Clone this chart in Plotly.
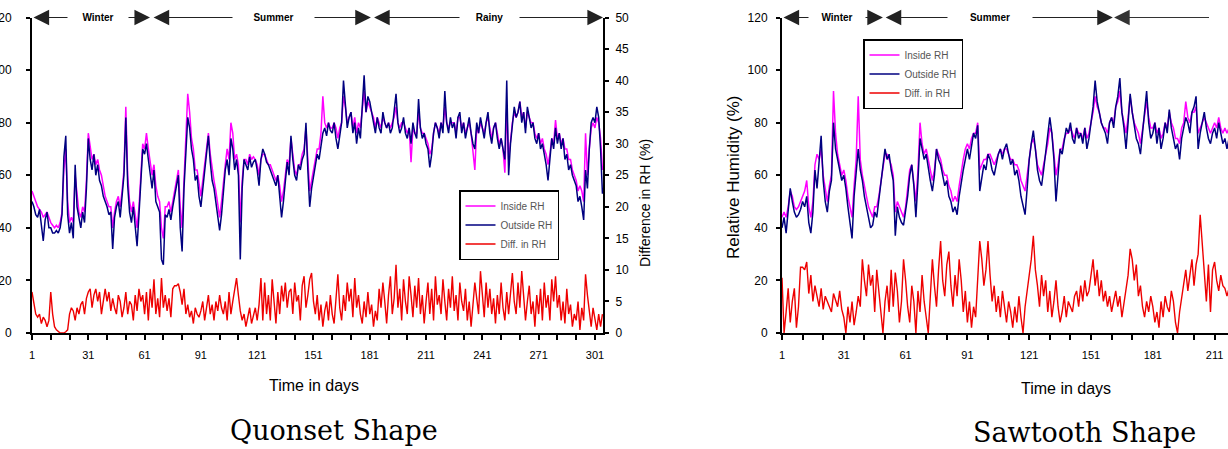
import plotly.graph_objects as go

# ---------------- Quonset shape (left panel) ----------------
q_inside = [
    54, 52, 50, 48, 47, 46, 44, 45, 46, 44,
    42, 41, 40, 41, 40, 42, 46, 62, 70, 50,
    42, 44, 42, 60, 52, 46, 44, 48, 46, 58,
    76, 70, 66, 68, 64, 66, 62, 60, 56, 52,
    50, 48, 48, 40, 46, 50, 52, 48, 54, 62,
    86, 60, 50, 46, 50, 44, 40, 48, 62, 72,
    70, 76, 70, 64, 60, 64, 56, 52, 50, 40,
    36, 48, 48, 50, 46, 50, 54, 58, 62, 48,
    40, 58, 74, 91, 84, 74, 70, 62, 62, 56,
    52, 58, 64, 72, 76, 68, 62, 58, 54, 48,
    44, 50, 58, 64, 70, 66, 80, 76, 66, 68,
    64, 42, 58, 66, 66, 64, 68, 66, 67, 66,
    64, 60, 66, 68, 68, 66, 64, 64, 62, 60,
    58, 60, 56, 50, 54, 60, 66, 64, 74, 68,
    62, 60, 64, 64, 68, 70, 78, 66, 54, 58,
    62, 66, 70, 70, 76, 90, 80, 78, 80, 78,
    78, 80, 78, 74, 78, 80, 90, 86, 80, 82,
    84, 78, 82, 76, 80, 78, 84, 92, 84, 88,
    86, 84, 82, 78, 82, 80, 78, 82, 80, 78,
    80, 78, 80, 82, 86, 80, 78, 80, 80, 78,
    76, 78, 65, 78, 76, 76, 84, 78, 76, 76,
    74, 72, 68, 70, 76, 80, 78, 76, 80, 78,
    86, 80, 78, 80, 80, 80, 76, 82, 82, 78,
    80, 76, 78, 80, 76, 70, 62, 78, 76, 80,
    78, 76, 80, 82, 78, 74, 78, 80, 76, 72,
    74, 70, 61, 86, 66, 74, 80, 84, 82, 84,
    88, 82, 84, 78, 84, 82, 80, 80, 76, 74,
    76, 72, 74, 70, 68, 64, 68, 74, 72, 81,
    74, 76, 72, 74, 70, 70, 66, 66, 62, 60,
    58, 54, 56, 54, 50, 76, 60, 70, 78, 80,
    78, 82, 80, 74, 62,
]
q_outside = [
    50, 48, 45, 44, 47, 42, 35, 43, 46, 40,
    40, 38, 38, 39, 38, 40, 45, 67, 75, 45,
    38, 42, 36, 64, 48, 44, 40, 46, 42, 55,
    74, 66, 62, 68, 60, 64, 58, 56, 52, 50,
    48, 45, 46, 32, 44, 48, 50, 44, 52, 60,
    82, 56, 46, 42, 48, 40, 33, 45, 60, 70,
    68, 72, 66, 60, 55, 62, 50, 48, 46, 28,
    26, 45, 44, 47, 43, 48, 52, 56, 60, 40,
    31, 55, 70, 82, 78, 70, 66, 58, 60, 52,
    48, 55, 62, 70, 75, 65, 58, 55, 50, 44,
    39, 45, 55, 62, 66, 60, 74, 70, 62, 66,
    60, 28, 55, 66, 64, 62, 67, 63, 65, 66,
    62, 56, 66, 70, 68, 65, 64, 62, 60, 58,
    56, 60, 52, 44, 50, 58, 65, 60, 75, 66,
    60, 58, 64, 62, 66, 68, 80, 62, 48, 55,
    60, 64, 68, 66, 72, 76, 78, 75, 80, 77,
    76, 80, 74, 70, 75, 80, 96, 85, 78, 82,
    84, 76, 80, 72, 78, 74, 86, 98, 84, 90,
    88, 84, 80, 76, 82, 78, 76, 84, 80, 78,
    80, 76, 78, 84, 91, 80, 76, 78, 82, 76,
    74, 78, 72, 80, 76, 74, 89, 78, 74, 76,
    72, 70, 63, 68, 76, 80, 78, 74, 80, 76,
    92, 80, 76, 82, 78, 80, 74, 82, 84, 76,
    80, 74, 78, 82, 76, 72, 70, 80, 76, 82,
    78, 74, 80, 84, 76, 72, 78, 80, 74, 70,
    74, 70, 66, 96, 60, 72, 80, 86, 82, 84,
    88, 80, 84, 76, 86, 82, 78, 80, 74, 72,
    76, 70, 72, 68, 64, 58, 66, 74, 70, 78,
    72, 76, 70, 74, 66, 68, 62, 64, 60, 58,
    56, 50, 52, 48, 43, 62, 55, 70, 80, 82,
    80, 86, 82, 70, 53,
]
q_diff = [
    6.5, 5, 3, 2.5, 3, 1.5, 2.5, 2, 1, 2,
    6.5, 3, 1, 0.5, 0.3, 0, 0, 0, 0.2, 0.5,
    3, 4, 3.5, 2, 4, 3, 4.5, 5, 3, 5.5,
    6.5, 7, 4, 6, 7, 5, 6.5, 3, 5, 7,
    5, 6.5, 3.5, 5.5, 4, 3, 6, 5, 2.5, 4,
    6.5, 3, 5, 4.5, 2, 6, 3.5, 7, 5, 6,
    3, 6.5, 2, 7, 4, 8.5, 3, 5.5, 2.5, 8.7,
    4, 6, 3.5, 5.5, 2.5, 7, 7.5, 7.5, 7.8, 6.5,
    4.5, 7, 3, 4.5, 2.5, 3.5, 1.5, 4, 3, 2.5,
    3.5, 5, 2, 4, 6, 3, 4.5, 2, 5, 3.5,
    6, 4, 3, 5, 2, 6.5, 3, 5, 7, 8.7,
    6, 3.5, 2, 3, 1, 2.5, 4, 1.5, 3, 4,
    2, 4.5, 8.7, 2, 8, 3, 6, 2, 8.5, 5,
    1.5, 6.5, 3, 7.5, 5, 8, 4, 6.5, 7, 3,
    8, 5, 6, 2, 7.5, 9, 4, 6, 8.5, 9.5,
    5, 3, 6, 2, 4.5, 1, 3.5, 5, 2, 6,
    3, 1.5, 5, 9.3, 4, 2, 6, 3.5, 8, 5,
    7, 2.5, 8.7, 4, 6, 3, 1.5, 5, 2.5, 6.5,
    3, 4.5, 1, 3.5, 2, 7, 4, 8, 5, 1.5,
    6, 9, 3, 5.5, 10.8, 4, 7, 2, 8.5, 5,
    3, 9, 6, 2.5, 7.5, 4, 8.7, 3, 6, 1.5,
    5, 8, 3, 7, 2, 9, 4.5, 6, 3, 8.5,
    5, 2, 7, 4, 9, 3.5, 6, 2, 8, 5,
    3.5, 7, 2, 5, 1, 4, 8, 5.5, 3, 9.8,
    6, 2.5, 8, 4, 7, 3, 5.5, 1.5, 6, 3,
    8, 4, 2, 6.5, 3, 7, 9.5, 5, 3, 8,
    4, 9.8, 6, 2, 5, 7.5, 3, 5, 1, 6,
    3, 7, 2, 8, 4, 6, 2, 8.5, 5, 9,
    4, 6, 2, 5, 1.5, 7, 3, 4.5, 1, 3,
    2, 5, 0.5, 4, 2, 9.3, 6, 3, 1, 4,
    2, 0.5, 3, 1, 3,
]
q_days = list(range(1, len(q_inside) + 1))

# ---------------- Sawtooth shape (right panel) ----------------
s_inside = [
    44, 46, 44, 48, 54, 52, 48, 47, 48, 50,
    52, 54, 58, 48, 44, 50, 64, 68, 66, 70,
    60, 54, 50, 56, 60, 92, 76, 68, 64, 60,
    62, 58, 52, 48, 44, 56, 66, 90, 66, 60,
    56, 52, 48, 46, 44, 48, 48, 52, 58, 64,
    68, 68, 66, 64, 60, 46, 50, 48, 46, 44,
    48, 54, 62, 64, 58, 50, 62, 80, 72, 68,
    70, 66, 62, 58, 62, 70, 68, 66, 62, 60,
    60, 56, 54, 50, 52, 50, 56, 62, 66, 70,
    72, 70, 74, 76, 76, 80, 62, 64, 66, 66,
    68, 68, 66, 64, 66, 68, 70, 68, 70, 70,
    68, 66, 66, 64, 64, 62, 58, 56, 54, 60,
    66, 72, 74, 70, 64, 62, 60, 64, 68, 72,
    78, 76, 68, 60, 64, 70, 70, 74, 76, 76,
    78, 76, 74, 78, 76, 76, 74, 78, 74, 76,
    80, 84, 90, 86, 84, 80, 78, 78, 76, 80,
    82, 80, 86, 88, 92, 84, 80, 76, 82, 90,
    84, 80, 78, 76, 72, 78, 84, 88, 82, 78,
    78, 80, 76, 78, 74, 76, 80, 78, 84, 80,
    78, 74, 74, 72, 78, 80, 88, 82, 80, 84,
    84, 86, 76, 78, 80, 82, 80, 78, 76, 78,
    80, 78, 82, 78, 76, 78, 76, 78,
]
s_outside = [
    40, 44, 38, 48, 55, 50, 46, 44, 45, 47,
    50, 48, 52, 42, 38, 46, 62, 55, 66, 75,
    58, 50, 46, 54, 58, 80, 70, 66, 62, 58,
    60, 55, 48, 42, 36, 52, 60, 70, 62, 58,
    52, 48, 44, 40, 41, 46, 44, 50, 56, 64,
    70, 66, 68, 62, 58, 37, 48, 44, 42, 41,
    46, 52, 60, 64, 56, 44, 58, 74, 70, 66,
    68, 62, 58, 54, 60, 70, 66, 64, 60, 56,
    58, 52, 50, 46, 48, 45, 52, 58, 62, 66,
    70, 66, 72, 76, 74, 79, 54, 60, 64, 62,
    68, 66, 62, 60, 64, 68, 70, 66, 70, 72,
    68, 64, 66, 60, 62, 58, 52, 48, 45, 55,
    66, 72, 77, 70, 62, 58, 56, 62, 68, 74,
    82, 76, 66, 50, 60, 70, 68, 74, 78, 76,
    80, 74, 72, 78, 74, 76, 72, 78, 70, 74,
    80, 86, 96, 88, 84, 80, 78, 76, 72, 80,
    82, 78, 86, 90, 97, 84, 78, 70, 80, 91,
    84, 78, 74, 72, 68, 76, 84, 92, 80, 74,
    76, 80, 72, 78, 70, 74, 80, 76, 85, 78,
    74, 70, 72, 66, 74, 78, 82, 80, 76, 84,
    86, 90, 70, 76, 80, 84, 78, 74, 72, 76,
    78, 74, 80, 76, 72, 74, 70, 74,
]
s_diff = [
    21, 0, 8, 17, 4, 12, 17, 2, 10, 25,
    25, 24, 27, 15, 22, 12, 18, 14, 10, 17,
    9, 14, 12, 10, 8, 15, 12, 10, 16, 9,
    6, 0, 10, 4, 12, 3, 8, 14, 10, 28,
    20, 14, 26, 18, 22, 8, 24, 15, 6, 0,
    12, 18, 8, 24, 10, 23, 16, 4, 12, 28,
    20, 10, 4, 18, 12, 0, 16, 8, 22, 12,
    6, 0, 14, 28, 18, 10, 24, 35, 20, 14,
    26, 31, 18, 10, 22, 14, 28, 20, 8, 16,
    4, 12, 2, 10, 6, 20, 35, 28, 18, 24,
    35, 22, 12, 18, 8, 14, 6, 16, 10, 4,
    12, 8, 2, 10, 4, 14, 6, 0, 10, 16,
    20, 28, 37, 24, 18, 10, 22, 14, 20, 8,
    16, 6, 12, 20, 10, 4, 8, 14, 6, 12,
    10, 8, 14, 16, 10, 18, 12, 20, 14, 16,
    22, 28, 18, 24, 14, 20, 12, 16, 10, 14,
    8, 12, 16, 10, 14, 6, 12, 18, 22, 32,
    28, 20, 26, 14, 18, 10, 6, 12, 8, 14,
    10, 4, 8, 2, 12, 6, 14, 10, 8, 16,
    12, 4, 0, 8, 14, 20, 24, 16, 22, 28,
    18, 26, 30, 45, 34, 22, 12, 26, 8, 24,
    27, 20, 16, 22, 18, 17, 14, 17,
]
s_days = list(range(1, len(s_inside) + 1))

# ticks
q_xticks = [1, 31, 61, 91, 121, 151, 181, 211, 241, 271, 301]
s_xticks = [1, 31, 61, 91, 121, 151, 181, 211]
rh_ticks = [0, 20, 40, 60, 80, 100, 120]
diff_ticks = [0, 5, 10, 15, 20, 25, 30, 35, 40, 45, 50]

# seasons (day boundaries)
q_seasons = ["Winter", "Summer", "Rainy"]
q_season_start = [1, 65, 182.5]
q_season_end = [63.9, 181.6, 305.3]
s_seasons = ["Winter", "Summer"]
s_season_start = [1, 50.6]
s_season_end = [50, 161.6]
s_rainy_start = 162.2
s_rainy_seen_end = 209

series_names = ["Inside RH", "Outside RH", "Diff. in RH"]
colors = ["#ff00ff", "#000080", "#ee0000"]

W, H = 1228, 449


def px(x):
    return x / W


def py(y):
    return 1 - y / H


fig = go.Figure()

# left panel traces
fig.add_trace(go.Scatter(x=q_days, y=q_inside, name=series_names[0], mode="lines",
                         line=dict(color=colors[0], width=1.5), xaxis="x", yaxis="y",
                         legend="legend"))
fig.add_trace(go.Scatter(x=q_days, y=q_outside, name=series_names[1], mode="lines",
                         line=dict(color=colors[1], width=1.5), xaxis="x", yaxis="y",
                         legend="legend"))
fig.add_trace(go.Scatter(x=q_days, y=q_diff, name=series_names[2], mode="lines",
                         line=dict(color=colors[2], width=1.4), xaxis="x", yaxis="y2",
                         legend="legend"))
# right panel traces
fig.add_trace(go.Scatter(x=s_days, y=s_inside, name=series_names[0], mode="lines",
                         line=dict(color=colors[0], width=1.5), xaxis="x2", yaxis="y3",
                         legend="legend2"))
fig.add_trace(go.Scatter(x=s_days, y=s_outside, name=series_names[1], mode="lines",
                         line=dict(color=colors[1], width=1.5), xaxis="x2", yaxis="y3",
                         legend="legend2"))
fig.add_trace(go.Scatter(x=s_days, y=s_diff, name=series_names[2], mode="lines",
                         line=dict(color=colors[2], width=1.4), xaxis="x2", yaxis="y3",
                         legend="legend2"))

tickfont = dict(family="Arial, Liberation Sans, sans-serif", size=11, color="black")
ydom = [py(333), py(17.5)]

xcommon = dict(showgrid=False, zeroline=False, showline=True, linecolor="black", linewidth=2,
               ticks="outside", ticklen=5, tickwidth=1.5, tickcolor="black",
               tickfont=tickfont, ticklabelstandoff=6, automargin=False,
               minor=dict(tickmode="linear", tick0=1, dtick=10, ticks="outside",
                          ticklen=5, tickwidth=1.5, tickcolor="black"))
ycommon = dict(showgrid=False, zeroline=False, showline=True, linecolor="black", linewidth=2,
               ticks="outside", ticklen=4, tickwidth=1.5, tickcolor="black",
               tickfont=dict(family="Arial, Liberation Sans, sans-serif", size=12, color="black"),
               automargin=False)

legend_font = dict(family="Arial, Liberation Sans, sans-serif", size=10, color="#555")

fig.update_layout(
    template="none",
    width=W, height=H,
    margin=dict(l=0, r=0, t=0, b=0),
    paper_bgcolor="white", plot_bgcolor="white",
    xaxis=dict(domain=[px(32), px(603)], range=[1, 305.3], tickmode="array",
               tickvals=q_xticks, anchor="y", **xcommon),
    yaxis=dict(domain=ydom, range=[0, 120], tickmode="array", tickvals=rh_ticks,
               anchor="x", ticklabelstandoff=12, **ycommon),
    yaxis2=dict(domain=ydom, range=[0, 50], tickmode="array", tickvals=diff_ticks,
                overlaying="y", side="right", anchor="x", ticklabelstandoff=4, **ycommon),
    xaxis2=dict(domain=[px(782), 1.0], range=[1, 217.5], tickmode="array",
                tickvals=s_xticks, anchor="y3", **xcommon),
    yaxis3=dict(domain=ydom, range=[0, 120], tickmode="array", tickvals=rh_ticks,
                anchor="x2", ticklabelstandoff=6, **ycommon),
    legend=dict(x=px(459), y=py(190), xanchor="left", yanchor="top",
                bgcolor="white", bordercolor="black", borderwidth=1.5,
                font=legend_font, itemwidth=30, tracegroupgap=0),
    legend2=dict(x=px(863), y=py(39), xanchor="left", yanchor="top",
                 bgcolor="white", bordercolor="black", borderwidth=1.5,
                 font=legend_font, itemwidth=30, tracegroupgap=0),
    showlegend=True,
)

arrow_style = dict(text="", showarrow=True, arrowhead=2, startarrowhead=2,
                   arrowside="end+start", arrowsize=2.6, startarrowsize=2.6,
                   arrowwidth=1.2, arrowcolor="#222")
label_font = dict(family="Arial, Liberation Sans, sans-serif", size=10, color="black")

# season arrows, left panel
q_label_widths = [58, 79, 57]
q_label_offsets = [3.7, 6.2, 1.1]
for name, a, b in zip(q_seasons, q_season_start, q_season_end):
    fig.add_annotation(xref="x", yref="y", axref="x", ayref="y", x=b, y=120, ax=a, ay=120, **arrow_style)
for name, a, b, w, off in zip(q_seasons, q_season_start, q_season_end, q_label_widths, q_label_offsets):
    fig.add_annotation(xref="x", yref="y", x=(a + b) / 2 + off, y=120, text="<b>%s</b>" % name,
                       showarrow=False, bgcolor="white", width=w, font=label_font,
                       xanchor="center", yanchor="middle")

# season arrows, right panel
s_label_widths = [54, 82]
s_label_offsets = [2, -4]
for name, a, b in zip(s_seasons, s_season_start, s_season_end):
    fig.add_annotation(xref="x2", yref="y3", axref="x2", ayref="y3", x=b, y=120, ax=a, ay=120, **arrow_style)
fig.add_annotation(xref="x2", yref="y3", axref="x2", ayref="y3", x=s_rainy_start, y=120,
                   ax=s_rainy_seen_end, ay=120, text="", showarrow=True, arrowhead=2,
                   arrowsize=2.6, arrowwidth=1.2, arrowcolor="#333")
for name, a, b, w, off in zip(s_seasons, s_season_start, s_season_end, s_label_widths, s_label_offsets):
    fig.add_annotation(xref="x2", yref="y3", x=(a + b) / 2 + off, y=120, text="<b>%s</b>" % name,
                       showarrow=False, bgcolor="white", width=w, font=label_font,
                       xanchor="center", yanchor="middle")

axis_title_font = dict(family="Arial, Liberation Sans, sans-serif", size=16, color="black")
center = dict(xanchor="center", yanchor="middle", showarrow=False, xref="paper", yref="paper")
# axis titles
fig.add_annotation(x=px(314), y=py(385), text="Time in days", font=axis_title_font, **center)
fig.add_annotation(x=px(1066), y=py(388), text="Time in days", font=axis_title_font, **center)
fig.add_annotation(x=px(645), y=py(203), text="Difference in RH (%)", textangle=-90,
                   font=dict(family="Arial, Liberation Sans, sans-serif", size=14, color="black"),
                   **center)
fig.add_annotation(x=px(733), y=py(178), text="Relative Humidity (%)", textangle=-90,
                   font=dict(family="Arial, Liberation Sans, sans-serif", size=17, color="black"),
                   **center)

# panel titles
title_font = dict(family="DejaVu Serif, serif", size=27, color="black")
fig.add_annotation(x=px(334), y=py(430), text="Quonset Shape", font=title_font, **center)
fig.add_annotation(x=px(1084), y=py(432), text="Sawtooth Shape", font=title_font, **center)

fig.write_html(
    "out.html",
    config={"displayModeBar": False},
    post_script="document.documentElement.style.margin='0';document.body.style.margin='0';"
                "document.body.style.padding='0';document.body.style.overflow='hidden';",
)
